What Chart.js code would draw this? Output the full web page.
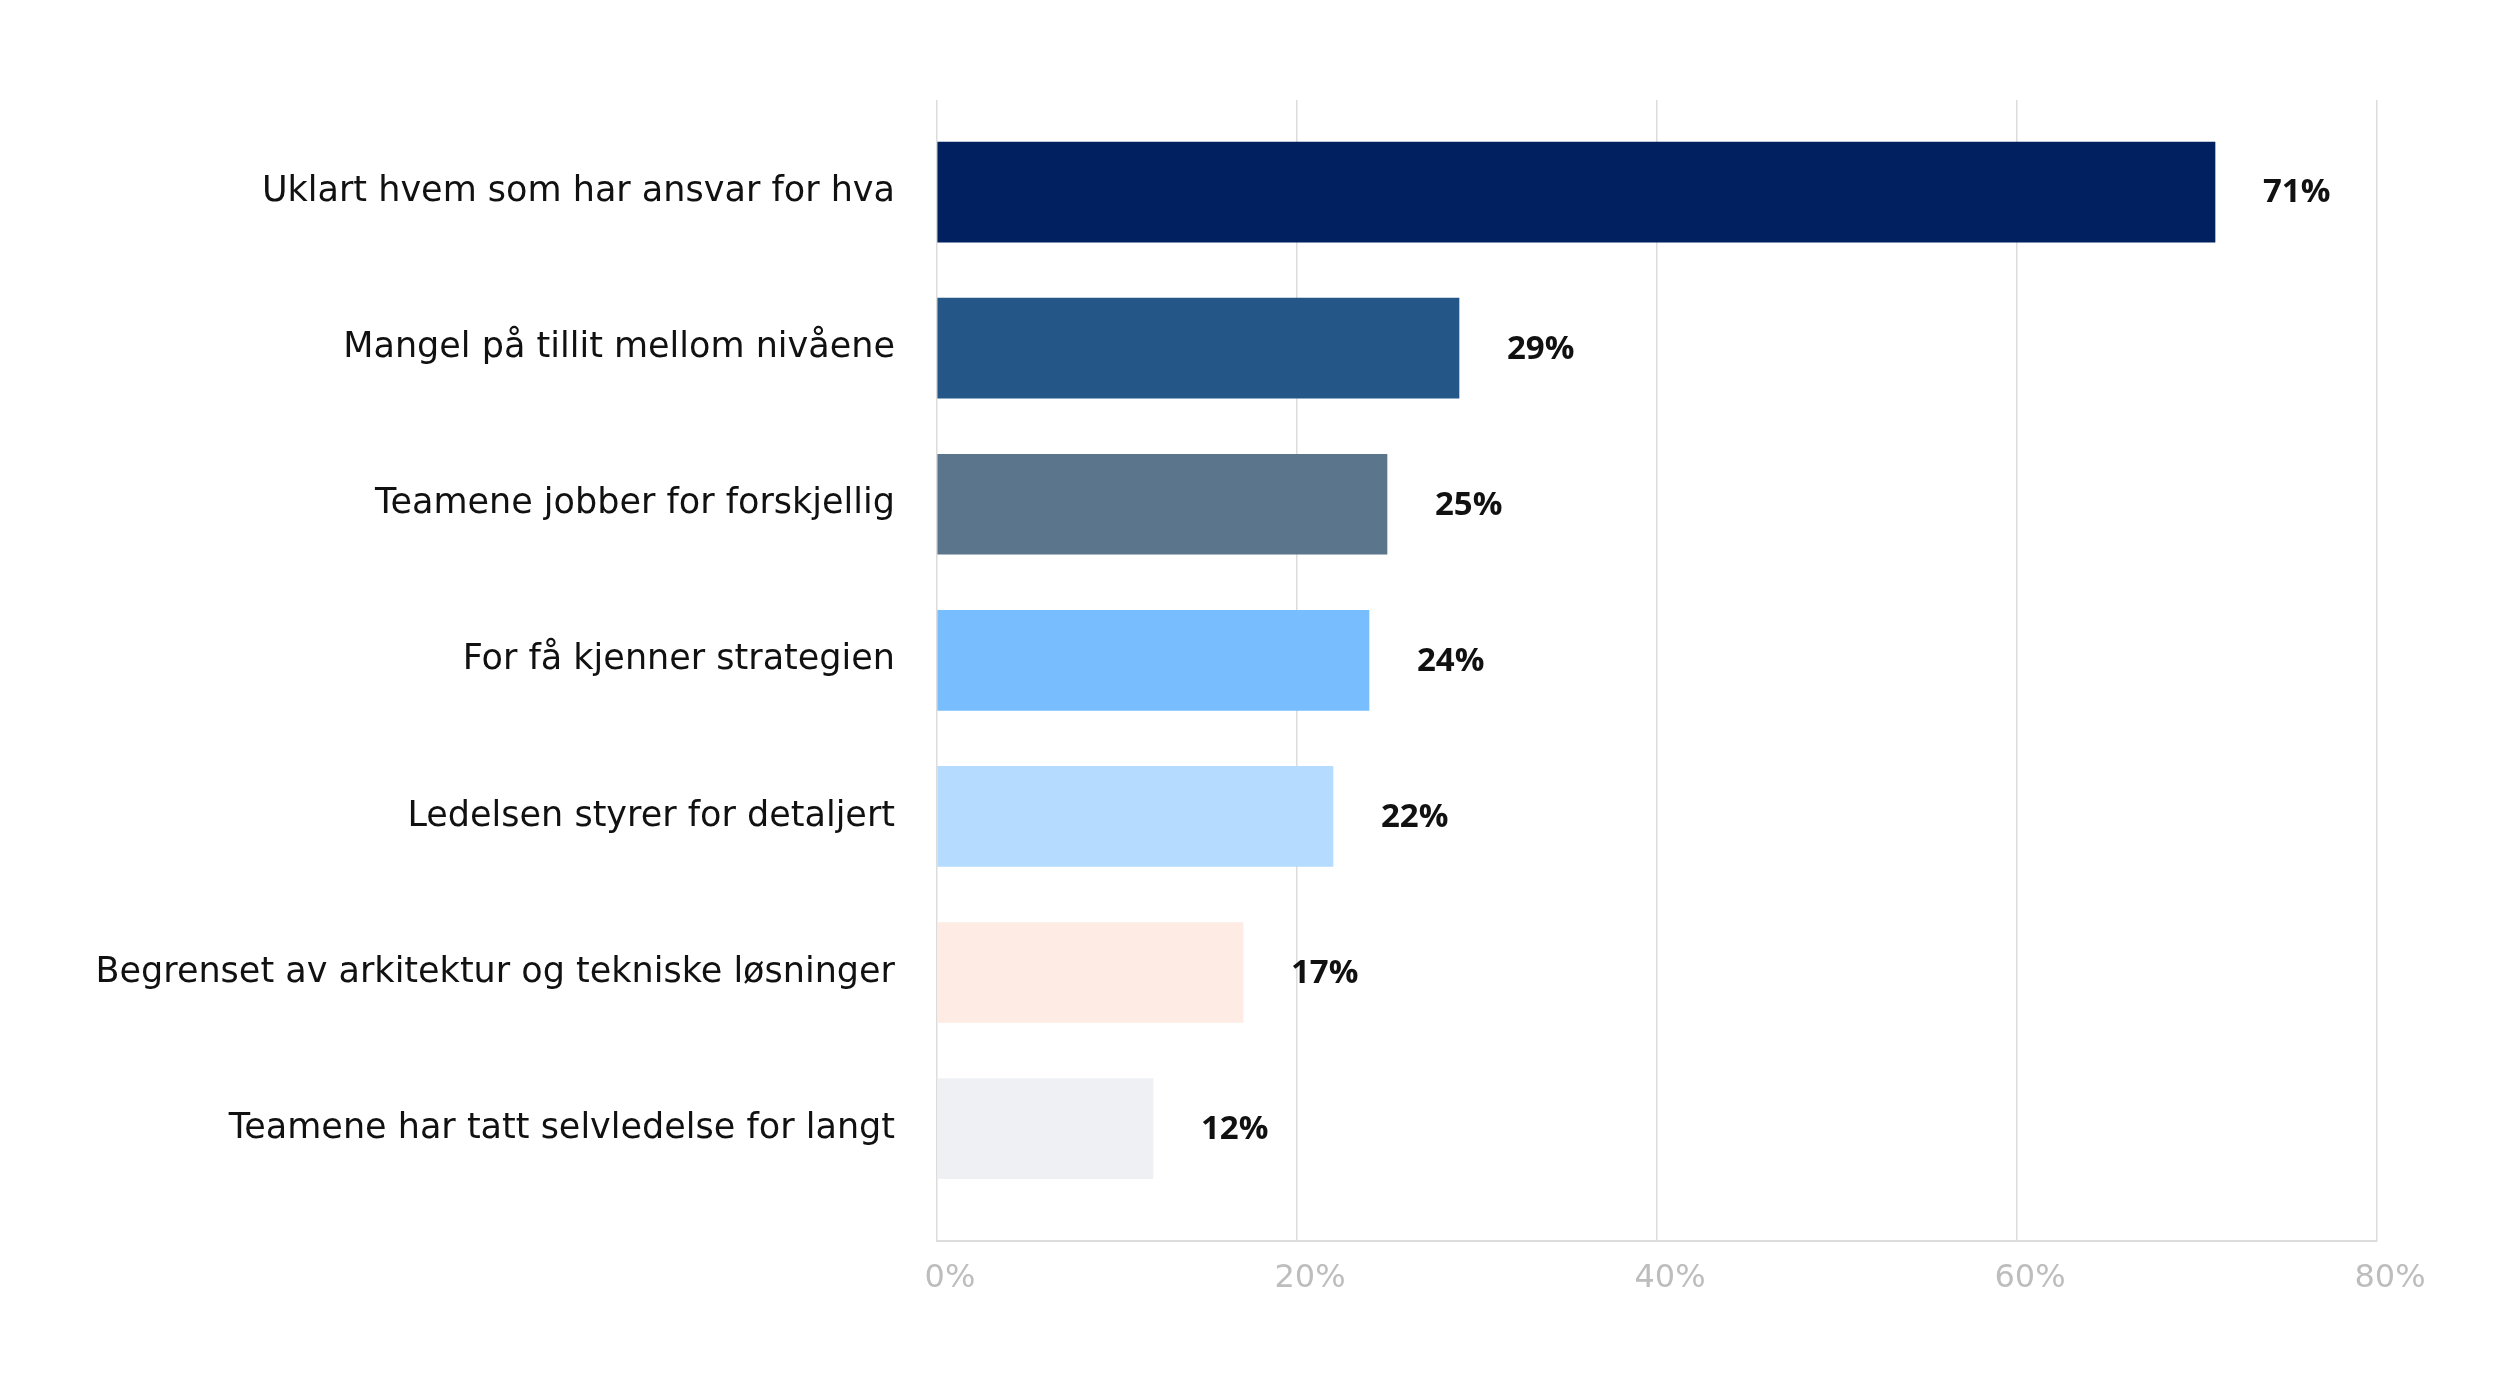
<!DOCTYPE html>
<html lang="no">
<head>
  <meta charset="UTF-8">
  <title>Utfordringer</title>
  <script src="https://cdn.jsdelivr.net/npm/chart.js"></script>
  <style>
    html, body { margin: 0; padding: 0; background: #fff; }
    #wrap { width: 2514px; height: 1394px; }
  </style>
</head>
<body>
  <div id="wrap"><canvas id="chart" width="2514" height="1394"></canvas></div>

  <script>
    // data
    const categories = [
      'Uklart hvem som har ansvar for hva',
      'Mangel på tillit mellom nivåene',
      'Teamene jobber for forskjellig',
      'For få kjenner strategien',
      'Ledelsen styrer for detaljert',
      'Begrenset av arkitektur og tekniske løsninger',
      'Teamene har tatt selvledelse for langt'
    ];
    const values = [71, 29, 25, 24, 22, 17, 12];
    const barColors = ['#002060', '#245787', '#5A758C', '#78BEFF', '#B5DBFF', '#FDEBE4', '#EFF0F4'];
    const xTicks = [0, 20, 40, 60, 80];

    const FONT = "'DejaVu Sans', sans-serif";
    const VALUE_FONT = "'Open Sans', sans-serif";

    // value labels to the right of each bar
    const valueLabels = {
      id: 'valueLabels',
      afterDatasetsDraw(chart) {
        const ctx = chart.ctx;
        const meta = chart.getDatasetMeta(0);
        ctx.save();
        ctx.font = '700 33px ' + VALUE_FONT;
        ctx.fillStyle = '#111';
        ctx.textAlign = 'left';
        ctx.textBaseline = 'middle';
        meta.data.forEach((bar, i) => {
          ctx.fillText(values[i] + '%', bar.x + 48, bar.y + 1);
        });
        ctx.restore();
      }
    };

    new Chart(document.getElementById('chart'), {
      type: 'bar',
      data: {
        datasets: [{
          data: values.map((v, i) => ({ x: v, y: i })),
          backgroundColor: barColors,
          barThickness: 100,
          borderWidth: 0
        }]
      },
      options: {
        indexAxis: 'y',
        responsive: false,
        animation: false,
        layout: { padding: { top: 100, right: 137, left: 0, bottom: 0 } },
        plugins: { legend: { display: false }, tooltip: { enabled: false } },
        scales: {
          x: {
            type: 'linear',
            min: 0,
            max: 80,
            afterBuildTicks: s => { s.ticks = xTicks.map(v => ({ value: v })); },
            afterFit: s => { s.height = 1394 - 1241; },
            border: { display: true, color: '#dcdcdc', width: 2 },
            grid: { color: '#dcdcdc', lineWidth: 1.5, drawTicks: false },
            ticks: {
              padding: 18,
              labelOffset: 13,
              color: '#bdbdbd',
              font: { family: FONT, size: 32 },
              callback: v => v + '%'
            }
          },
          y: {
            type: 'linear',
            reverse: true,
            offset: false,
            min: -0.59,
            max: 6.72,
            afterBuildTicks: s => { s.ticks = categories.map((c, i) => ({ value: i })); },
            afterFit: s => { s.width = 937; },
            border: { display: false },
            grid: { display: false, drawTicks: false },
            ticks: {
              padding: 42,
              color: '#111',
              font: { family: FONT, size: 35 },
              callback: v => categories[v]
            }
          }
        }
      },
      plugins: [valueLabels]
    });
  </script>
</body>
</html>
